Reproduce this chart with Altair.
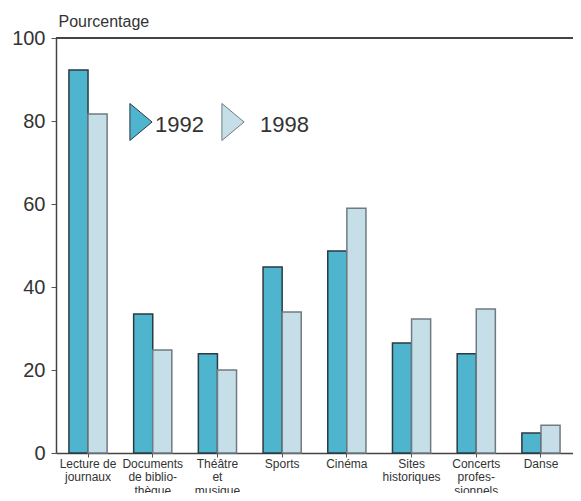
import altair as alt
import pandas as pd

categories = ["Lecture de|journaux", "Documents|de biblio-|thèque", "Théâtre|et|musique",
              "Sports", "Cinéma", "Sites|historiques", "Concerts|profes-|sionnels", "Danse"]
values_1992 = [92.3, 33.5, 23.9, 44.8, 48.7, 26.5, 23.9, 4.8]
values_1998 = [81.7, 24.8, 20.0, 34.0, 59.0, 32.3, 34.7, 6.7]
years = ["1992", "1998"]
y_ticks = [0, 20, 40, 60, 80, 100]

rows = []
for c, a, b in zip(categories, values_1992, values_1998):
    rows.append({"cat": c, "year": "1992", "val": a})
    rows.append({"cat": c, "year": "1998", "val": b})
df = pd.DataFrame(rows)

W, H = 517, 415
FONT = "Liberation Sans"
fills = ["#4fb5cf", "#c6dee7"]
strokes = ["#2b3a40", "#6f7b81"]

bars = alt.Chart(df).mark_bar(strokeWidth=1.5).encode(
    x=alt.X("cat:N", sort=categories, title=None,
            scale=alt.Scale(paddingInner=0.41, paddingOuter=0.2),
            axis=alt.Axis(labelExpr="split(datum.label, '|')", labelAngle=0,
                          labelFontSize=12, labelLineHeight=13.5, labelColor="#333",
                          labelFont=FONT, labelPadding=1, labelBaseline="top",
                          tickSize=4, tickColor="#555", domainColor="#444",
                          domainWidth=1.5, labelLimit=200)),
    xOffset=alt.XOffset("year:N", sort=years),
    y=alt.Y("val:Q", scale=alt.Scale(domain=[0, 100], nice=False),
            axis=alt.Axis(values=y_ticks, grid=False, title="Pourcentage",
                          titleAngle=0, titleAlign="left", titleBaseline="alphabetic",
                          titleX=2, titleY=-12, titleFont=FONT, titleFontSize=16,
                          titleFontWeight="normal", titleColor="#333",
                          labelFont=FONT, labelFontSize=20, labelColor="#333",
                          labelPadding=6, tickSize=5, tickColor="#555",
                          domainColor="#444", domainWidth=1.5)),
    color=alt.Color("year:N", scale=alt.Scale(domain=years, range=fills), legend=None),
    stroke=alt.Stroke("year:N", scale=alt.Scale(domain=years, range=strokes), legend=None),
)

top_rule = alt.Chart(df).mark_rule(color="#444", strokeWidth=1.5).encode(
    x=alt.value(0), x2=alt.value(W), y=alt.value(0))

leg_df = pd.DataFrame({"year": years})
tri = "M -0.6 -1 L 0.6 0 L -0.6 1 Z"
leg_marks = []
for i, yr in enumerate(years):
    sub = leg_df[leg_df.year == yr]
    px = 85 + i * 92
    leg_marks.append(alt.Chart(sub).mark_point(shape=tri, size=1370, filled=True,
                                              fill=fills[i], stroke=strokes[i],
                                              strokeWidth=1, opacity=1).encode(
        x=alt.value(px), y=alt.value(84)))
    leg_marks.append(alt.Chart(sub).mark_text(align="left", baseline="middle",
                                             font=FONT, fontSize=22, color="#333").encode(
        x=alt.value(px + 14 + i * 13), y=alt.value(87), text="year:N"))

chart = alt.layer(bars, top_rule, *leg_marks).properties(
    width=W, height=H,
    autosize=alt.AutoSizeParams(type="none"),
    padding={"left": 48, "top": 30, "right": 0, "bottom": 40},
).configure_view(stroke=None)

chart.save("out.html", embed_options={"renderer": "svg", "actions": False})
